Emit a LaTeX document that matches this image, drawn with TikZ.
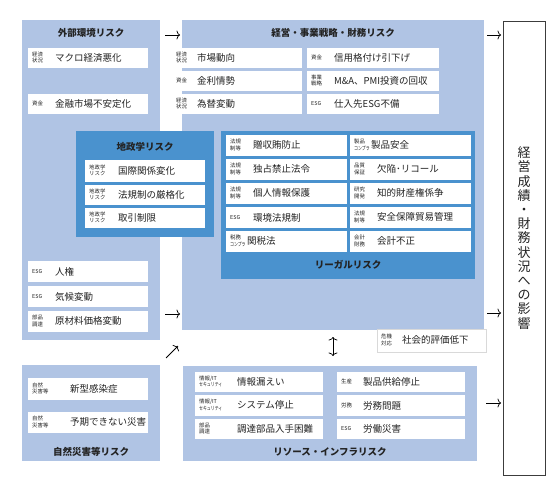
\documentclass[tikz,border=0pt]{standalone}
\usepackage{fontspec}
\setmainfont{Noto Sans CJK JP}
\usepackage{graphicx}
\usetikzlibrary{arrows.meta}

\definecolor{paleblue}{RGB}{176,196,228}
\definecolor{deepblue}{RGB}{74,146,206}
\definecolor{inkgray}{RGB}{35,35,35}
\definecolor{framegray}{RGB}{60,60,60}

% small category tag in front of each risk item
\newcommand{\riskitem}[3]{\makebox[#1][l]{\raisebox{2pt}{\fontsize{5.4}{6.2}\selectfont\begin{tabular}[c]{@{}l@{}}#2\end{tabular}}}#3}
\newcommand{\narrow}[1]{\scalebox{0.72}[1]{#1}}

\begin{document}
\begin{tikzpicture}[x=1pt, y=-1pt]

        % Setup the styles for panels and items
        \tikzset{panel style/.style={anchor=north west,
                                     fill=paleblue,
                                     inner sep=0pt},
                 inner panel style/.style={panel style,
                                     fill=deepblue},
                 title style/.style={font=\fontsize{9.5}{11}\selectfont\bfseries,
                                     text=inkgray},
                 item style/.style={anchor=north west,
                                    fill=white,
                                    inner xsep=4pt,
                                    inner ysep=0pt,
                                    align=left,
                                    text=inkgray,
                                    font=\fontsize{9.5}{11}\selectfont}}

        \useasboundingbox (0, 0) rectangle (560, 484);

        % Draw the outer panels
        \node[panel style, minimum width=138pt, minimum height=320pt] at (22, 20)  (External) {};
        \node[panel style, minimum width=302pt, minimum height=310pt] at (182, 20) (Business) {};
        \node[panel style, minimum width=138pt, minimum height=96pt]  at (22, 365) (Nature)   {};
        \node[panel style, minimum width=294pt, minimum height=95pt]  at (183, 366) (Resource) {};

        % Draw the inner panels
        \node[inner panel style, minimum width=138pt, minimum height=106pt] at (76, 131)  (Geopolitics) {};
        \node[inner panel style, minimum width=254pt, minimum height=148pt] at (221, 131) (Legal)       {};

        % Panel titles
        \node[title style] at (91, 33)   (ExternalTitle)    {外部環境リスク};
        \node[title style] at (333, 33)  (BusinessTitle)    {経営・事業戦略・財務リスク};
        \node[title style] at (145, 147) (GeopoliticsTitle) {地政学リスク};
        \node[title style] at (348, 265) (LegalTitle)       {リーガルリスク};
        \node[title style] at (91, 452)  (NatureTitle)      {自然災害等リスク};
        \node[title style] at (330, 452) (ResourceTitle)    {リソース・インフラリスク};

        % External environment items
        \node[item style, text width=112pt, minimum height=20pt] at (28, 48)  (MacroEconomy) {\riskitem{23pt}{経済\\状況}{マクロ経済悪化}};
        \node[item style, text width=112pt, minimum height=20pt] at (28, 94)  (FinMarket)    {\riskitem{23pt}{資金}{金融市場不安定化}};
        \node[item style, text width=112pt, minimum height=21pt] at (28, 261) (HumanRights)  {\riskitem{23pt}{ESG}{人権}};
        \node[item style, text width=112pt, minimum height=21pt] at (28, 286) (Climate)      {\riskitem{23pt}{ESG}{気候変動}};
        \node[item style, text width=112pt, minimum height=21pt] at (28, 311) (RawMaterial)  {\riskitem{23pt}{部品\\調達}{原材料価格変動}};

        % Business strategy and finance items
        \node[item style, text width=122pt, minimum height=20pt] at (172, 48) (MarketTrend)  {\riskitem{21pt}{経済\\状況}{市場動向}};
        \node[item style, text width=122pt, minimum height=20pt] at (172, 71) (InterestRate) {\riskitem{21pt}{資金}{金利情勢}};
        \node[item style, text width=122pt, minimum height=20pt] at (172, 94) (Currency)     {\riskitem{21pt}{経済\\状況}{為替変動}};
        \node[item style, text width=124pt, minimum height=20pt] at (307, 48) (Downgrade)    {\riskitem{23pt}{資金}{信用格付け引下げ}};
        \node[item style, text width=124pt, minimum height=20pt] at (307, 71) (Acquisition)  {\riskitem{23pt}{事業\\戦略}{M\&A、PMI投資の回収}};
        \node[item style, text width=124pt, minimum height=20pt] at (307, 94) (Supplier)     {\riskitem{23pt}{ESG}{仕入先ESG不備}};

        % Geopolitical items
        \node[item style, text width=112pt, minimum height=22pt] at (85, 160) (Relations)   {\riskitem{29pt}{地政学\\リスク}{国際関係変化}};
        \node[item style, text width=112pt, minimum height=20pt] at (85, 185) (Regulation)  {\riskitem{29pt}{地政学\\リスク}{法規制の厳格化}};
        \node[item style, text width=112pt, minimum height=20pt] at (85, 208) (TradeLimit)  {\riskitem{29pt}{地政学\\リスク}{取引制限}};

        % Legal items
        \node[item style, text width=113pt, minimum height=21pt] at (226, 135) (Bribery)     {\riskitem{23pt}{法規\\制等}{贈収賄防止}};
        \node[item style, text width=113pt, minimum height=21pt] at (226, 159) (Antitrust)   {\riskitem{23pt}{法規\\制等}{独占禁止法令}};
        \node[item style, text width=113pt, minimum height=21pt] at (226, 183) (Privacy)     {\riskitem{23pt}{法規\\制等}{個人情報保護}};
        \node[item style, text width=113pt, minimum height=21pt] at (226, 207) (EnvLaw)      {\riskitem{23pt}{ESG}{環境法規制}};
        \node[item style, text width=113pt, minimum height=21pt] at (226, 231) (Tariff)      {\riskitem{17pt}{税務\\\narrow{コンプラ}}{関税法}};
        \node[item style, text width=113pt, minimum height=21pt] at (350, 135) (ProductSafe) {\riskitem{17pt}{製品\\\narrow{コンプラ}}{製品安全}};
        \node[item style, text width=113pt, minimum height=21pt] at (350, 159) (Recall)      {\riskitem{23pt}{品質\\保証}{欠陥･リコール}};
        \node[item style, text width=113pt, minimum height=21pt] at (350, 183) (Patent)      {\riskitem{23pt}{研究\\開発}{知的財産権係争}};
        \node[item style, text width=113pt, minimum height=21pt] at (350, 207) (ExportCtrl)  {\riskitem{23pt}{法規\\制等}{安全保障貿易管理}};
        \node[item style, text width=113pt, minimum height=21pt] at (350, 231) (Accounting)  {\riskitem{23pt}{会計\\財務}{会計不正}};

        % Crisis item below the business panel
        \node[item style, draw=black!15, text width=101pt, minimum height=23pt] at (377, 329) (Reputation) {\riskitem{21pt}{危機\\対応}{社会的評価低下}};

        % Natural disaster items
        \node[item style, text width=112pt, minimum height=22pt] at (28, 378) (Pandemic) {\riskitem{38pt}{自然\\災害等}{新型感染症}};
        \node[item style, text width=112pt, minimum height=21pt] at (28, 412) (Disaster) {\riskitem{38pt}{自然\\災害等}{予期できない災害}};

        % Resource and infrastructure items
        \node[item style, text width=120pt, minimum height=20pt] at (195, 372) (DataLeak)     {\riskitem{38pt}{情報/IT\\\narrow{セキュリティ}}{情報漏えい}};
        \node[item style, text width=120pt, minimum height=21pt] at (195, 395) (SystemDown)   {\riskitem{38pt}{情報/IT\\\narrow{セキュリティ}}{システム停止}};
        \node[item style, text width=120pt, minimum height=20pt] at (195, 419) (PartsSupply)  {\riskitem{38pt}{部品\\調達}{調達部品入手困難}};
        \node[item style, text width=120pt, minimum height=20pt] at (337, 372) (SupplyStop)   {\riskitem{22pt}{生産}{製品供給停止}};
        \node[item style, text width=120pt, minimum height=21pt] at (337, 395) (LaborIssue)   {\riskitem{22pt}{労務}{労務問題}};
        \node[item style, text width=120pt, minimum height=20pt] at (337, 419) (LaborAccident){\riskitem{22pt}{ESG}{労働災害}};

        % Impact box
        \node[anchor=north west, draw=framegray, line width=.9pt, fill=white,
              minimum width=42pt, minimum height=454pt] at (503, 21) (Impact) {};
        \node[align=center, text=inkgray, font=\fontsize{13}{14.2}\selectfont] at (524, 238) (ImpactText)
            {経\\営\\成\\績\\・\\財\\務\\状\\況\\へ\\の\\影\\響};

        % Arrow ends
        \coordinate (ExtTopFrom)  at (165, 35);  \coordinate (ExtTopTo)  at (180, 35);
        \coordinate (ExtLowFrom)  at (165, 314); \coordinate (ExtLowTo)  at (180, 314);
        \coordinate (NatFrom)     at (166, 358); \coordinate (NatTo)     at (178, 346);
        \coordinate (BusTopFrom)  at (487, 35);  \coordinate (BusTopTo)  at (501, 35);
        \coordinate (BusLowFrom)  at (487, 313); \coordinate (BusLowTo)  at (501, 313);
        \coordinate (ResFrom)     at (486, 403); \coordinate (ResTo)     at (501, 403);
        \coordinate (LinkTop)     at (333, 337); \coordinate (LinkBottom) at (333, 356);

        % Connect with arrows
        \draw[line width=.25mm, >={To[length=3.5pt, width=9pt]}]
            (ExtTopFrom) edge[->]  (ExtTopTo)
            (ExtLowFrom) edge[->]  (ExtLowTo)
            (NatFrom)    edge[->]  (NatTo)
            (BusTopFrom) edge[->]  (BusTopTo)
            (BusLowFrom) edge[->]  (BusLowTo)
            (ResFrom)    edge[->]  (ResTo)
            (LinkTop)    edge[<->] (LinkBottom);
      \end{tikzpicture}
\end{document}
